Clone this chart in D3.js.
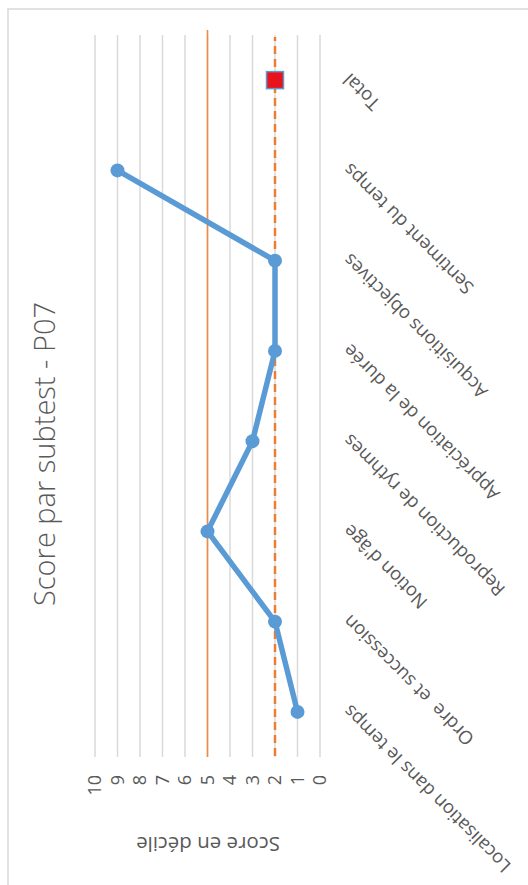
<!DOCTYPE html>
<html>
<head>
<meta charset="utf-8">
<script src="https://cdn.jsdelivr.net/npm/d3@7"></script>
<style>
  html, body { margin: 0; padding: 0; background: #ffffff; }
  svg { display: block; }
  text { font-family: "Open Sans", "DejaVu Sans", sans-serif; fill: #595959; white-space: pre; }
</style>
</head>
<body>
<svg id="chart" width="528" height="885"></svg>
<script>
// Subtest names, in axis order
const categories = [
  "Localisation dans le temps",
  "Ordre  et succession",
  "Notion d'âge",
  "Reproduction de rythmes",
  "Appréciation de la durée",
  "Acquisitions objectives",
  "Sentiment du temps",
  "Total"
];
// Decile score of each subtest (the line series)
const subtestScores = [1, 2, 5, 3, 2, 2, 9];
// Overall decile score (shown on the "Total" category)
const totalScore = [2];
// Reference levels: median (solid) and threshold (dashed)
const medianLevel = 5;
const thresholdLevel = 2;
// Value axis ticks
const valueTicks = [0, 1, 2, 3, 4, 5, 6, 7, 8, 9, 10];

const title = "Score par subtest - P07";
const yTitle = "Score en décile";

const W = 885, H = 528;
const svg = d3.select("#chart");

// The whole chart is laid out landscape, then turned a quarter turn.
const g = svg.append("g").attr("transform", `translate(0,${W}) rotate(-90)`);

// outer frame
g.append("rect")
  .attr("x", -10).attr("y", 8)
  .attr("width", 886).attr("height", 540)
  .attr("fill", "none").attr("stroke", "#d9d9d9").attr("stroke-width", 1.5);

const x = d3.scaleBand().domain(categories).range([128, 850]);
const y = d3.scaleLinear().domain([0, 10]).range([320, 95]);

// horizontal gridlines
g.append("g").selectAll("line").data(valueTicks).join("line")
  .attr("x1", 128).attr("x2", 850)
  .attr("y1", d => y(d)).attr("y2", d => y(d))
  .attr("stroke", "#d9d9d9").attr("stroke-width", 1.5);

// value axis labels
const yAxis = g.append("g").attr("transform", "translate(128,0)")
  .call(d3.axisLeft(y).tickValues(valueTicks).tickSize(0).tickPadding(18).tickFormat(d3.format("d")));
yAxis.select(".domain").remove();
yAxis.selectAll("text")
  .style("font-family", "'Open Sans', sans-serif")
  .style("font-size", "18px")
  .attr("fill", "#595959");

// category labels, slanted
const xAxis = g.append("g").attr("transform", "translate(0,320)")
  .call(d3.axisBottom(x).tickSize(0).tickPadding(0));
xAxis.select(".domain").remove();
xAxis.selectAll("text")
  .style("font-family", "'Open Sans', sans-serif")
  .style("font-size", "18.5px")
  .style("white-space", "pre")
  .attr("fill", "#595959")
  .attr("text-anchor", "end")
  .attr("x", 0).attr("y", 0).attr("dy", 0)
  .attr("transform", "translate(8,31) rotate(-45)");

// reference lines
g.append("line")
  .attr("x1", 128).attr("x2", 855)
  .attr("y1", y(medianLevel)).attr("y2", y(medianLevel))
  .attr("stroke", "#ef8a47").attr("stroke-width", 1.6);

g.append("line")
  .attr("x1", 129).attr("x2", 848)
  .attr("y1", y(thresholdLevel)).attr("y2", y(thresholdLevel))
  .attr("stroke", "#ed7d31").attr("stroke-width", 2.5)
  .attr("stroke-dasharray", "8,5");

// subtest score line
const pts = subtestScores.map((v, i) => ({ c: categories[i], v }));
const line = d3.line().x(d => x(d.c) + x.bandwidth() / 2).y(d => y(d.v));
g.append("path").datum(pts)
  .attr("d", line)
  .attr("fill", "none").attr("stroke", "#5b9bd5").attr("stroke-width", 5.5)
  .attr("stroke-linejoin", "round");
g.append("g").selectAll("circle").data(pts).join("circle")
  .attr("cx", d => x(d.c) + x.bandwidth() / 2)
  .attr("cy", d => y(d.v))
  .attr("r", 7)
  .attr("fill", "#5b9bd5");

// total marker
const sq = 17;
g.append("g").selectAll("rect").data(totalScore).join("rect")
  .attr("x", x("Total") + x.bandwidth() / 2 - sq / 2)
  .attr("y", d => y(d) - sq / 2)
  .attr("width", sq).attr("height", sq)
  .attr("fill", "#e8141c").attr("stroke", "#5b9bd5").attr("stroke-width", 1.5);

// chart title
g.append("text")
  .attr("x", 431).attr("y", 55)
  .attr("text-anchor", "middle")
  .style("font-size", "29px")
  .style("font-weight", 300)
  .text(title);

// value axis title
g.append("text")
  .attr("transform", "translate(48,208) rotate(-90)")
  .attr("text-anchor", "middle")
  .style("font-size", "20.5px")
  .text(yTitle);
</script>
</body>
</html>
